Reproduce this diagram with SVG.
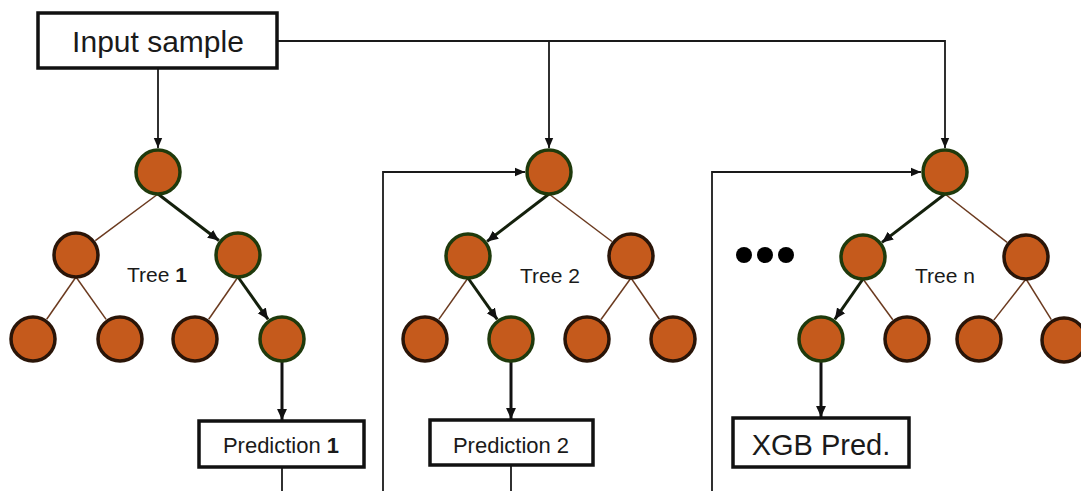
<svg xmlns="http://www.w3.org/2000/svg" width="1081" height="491" viewBox="0 0 1081 491">
  <style>
    .box { fill: #ffffff; stroke: #111111; stroke-width: 3.5; }
    .lbl { font-family: "Liberation Sans", Arial, sans-serif; fill: #1a1a1a; text-anchor: middle; }
    .node { fill: #C55A1C; stroke: #2a1508; stroke-width: 3.5; }
    .node.path { stroke: #1f3a0c; }
    .thin { stroke: #6b3a1f; stroke-width: 1.5; fill: none; }
    .thick { stroke: #14200c; stroke-width: 3; fill: none; marker-end: url(#headBold); }
    .wire { stroke: #1a1a1a; stroke-width: 1.8; fill: none; }
    .wire.arr { marker-end: url(#head); }
    .down { stroke: #111111; stroke-width: 3; fill: none; marker-end: url(#headBold); }
  </style>
  <defs>
    <marker id="head" markerUnits="userSpaceOnUse" markerWidth="10" markerHeight="10" viewBox="0 0 10 10" refX="10" refY="5" orient="auto">
      <path d="M0,0.8 L10,5 L0,9.2 z" fill="#111111"/>
    </marker>
    <marker id="headBold" markerUnits="userSpaceOnUse" markerWidth="11" markerHeight="11" viewBox="0 0 10 10" refX="10" refY="5" orient="auto">
      <path d="M0,0.5 L10,5 L0,9.5 z" fill="#111111"/>
    </marker>
  </defs>

  <!-- connectors -->
  <g id="connectors">
    <!-- input distribution -->
    <path class="wire arr" d="M158,68 V148"/>
    <path class="wire arr" d="M277,41 H945 V148"/>
    <path class="wire arr" d="M549,41 V148"/>
    <!-- residual feedback into later trees -->
    <path class="wire arr" d="M383,491 V172 H525"/>
    <path class="wire arr" d="M712,491 V172 H921"/>

    <!-- tree 1 -->
    <line class="thin" x1="158" y1="194" x2="95.3" y2="240.7"/>
    <line class="thick" x1="158" y1="194" x2="218.9" y2="240.5"/>
    <line class="thin" x1="76" y1="277" x2="46.7" y2="319.3"/>
    <line class="thin" x1="76" y1="277" x2="106.1" y2="319.4"/>
    <line class="thin" x1="238" y1="277" x2="208.7" y2="319.3"/>
    <line class="thick" x1="238" y1="277" x2="268.1" y2="319.4"/>
    <line class="down" x1="282" y1="361" x2="282" y2="420"/>
    <line class="wire" x1="282" y1="467" x2="282" y2="491"/>

    <!-- tree 2 -->
    <line class="thick" x1="549" y1="194" x2="487.1" y2="241.4"/>
    <line class="thin" x1="549" y1="194" x2="611.9" y2="241.5"/>
    <line class="thin" x1="468" y1="278" x2="438.8" y2="319.4"/>
    <line class="thick" x1="468" y1="278" x2="497.2" y2="319.4"/>
    <line class="thin" x1="631" y1="278" x2="601" y2="319.5"/>
    <line class="thin" x1="631" y1="278" x2="659.4" y2="319.2"/>
    <line class="down" x1="511" y1="361" x2="511" y2="419"/>
    <line class="wire" x1="511" y1="465" x2="511" y2="491"/>

    <!-- tree n -->
    <line class="thick" x1="945" y1="194" x2="882" y2="242.4"/>
    <line class="thin" x1="945" y1="194" x2="1007.1" y2="242.3"/>
    <line class="thick" x1="863" y1="279" x2="834.8" y2="319.3"/>
    <line class="thin" x1="863" y1="279" x2="892.8" y2="319.7"/>
    <line class="thin" x1="1026" y1="279" x2="993.8" y2="320.1"/>
    <line class="thin" x1="1026" y1="279" x2="1051.3" y2="319.6"/>
    <line class="down" x1="821" y1="361" x2="821" y2="417"/>
  </g>

  <!-- input -->
  <g id="input-sample">
    <rect class="box" x="38" y="13" width="239" height="55"/>
    <text class="lbl" x="158" y="52" font-size="30">Input sample</text>
  </g>

  <!-- tree 1 -->
  <g id="tree-1">
    <circle class="node path" cx="158" cy="172" r="22"/>
    <circle class="node" cx="76" cy="255" r="22"/>
    <circle class="node path" cx="238" cy="255" r="22"/>
    <circle class="node" cx="33" cy="339" r="22"/>
    <circle class="node" cx="120" cy="339" r="22"/>
    <circle class="node" cx="195" cy="339" r="22"/>
    <circle class="node path" cx="282" cy="339" r="22"/>
    <text class="lbl" x="157" y="282" font-size="21">Tree <tspan font-weight="bold">1</tspan></text>
  </g>
  <g id="prediction-1">
    <rect class="box" x="199" y="421" width="165" height="46"/>
    <text class="lbl" x="281" y="453" font-size="22">Prediction <tspan font-weight="bold">1</tspan></text>
  </g>

  <!-- tree 2 -->
  <g id="tree-2">
    <circle class="node path" cx="549" cy="172" r="22"/>
    <circle class="node path" cx="468" cy="256" r="22"/>
    <circle class="node" cx="631" cy="256" r="22"/>
    <circle class="node" cx="425" cy="339" r="22"/>
    <circle class="node path" cx="511" cy="339" r="22"/>
    <circle class="node" cx="587" cy="339" r="22"/>
    <circle class="node" cx="673" cy="339" r="22"/>
    <text class="lbl" x="550" y="283" font-size="21">Tree 2</text>
  </g>
  <g id="prediction-2">
    <rect class="box" x="430" y="420" width="163" height="45"/>
    <text class="lbl" x="511" y="453" font-size="22">Prediction 2</text>
  </g>

  <!-- ellipsis between trees -->
  <g id="more-trees" fill="#000000">
    <circle cx="744" cy="255" r="8"/>
    <circle cx="765" cy="255" r="8"/>
    <circle cx="786" cy="255" r="8"/>
  </g>

  <!-- tree n -->
  <g id="tree-n">
    <circle class="node path" cx="945" cy="172" r="22"/>
    <circle class="node path" cx="863" cy="257" r="22"/>
    <circle class="node" cx="1026" cy="257" r="22"/>
    <circle class="node path" cx="821" cy="339" r="22"/>
    <circle class="node" cx="907" cy="339" r="22"/>
    <circle class="node" cx="979" cy="339" r="22"/>
    <circle class="node" cx="1064" cy="340" r="22"/>
    <text class="lbl" x="945" y="283" font-size="21">Tree n</text>
  </g>
  <g id="xgb-prediction">
    <rect class="box" x="733" y="418" width="176" height="49"/>
    <text class="lbl" x="821" y="455" font-size="29">XGB Pred.</text>
  </g>
</svg>
